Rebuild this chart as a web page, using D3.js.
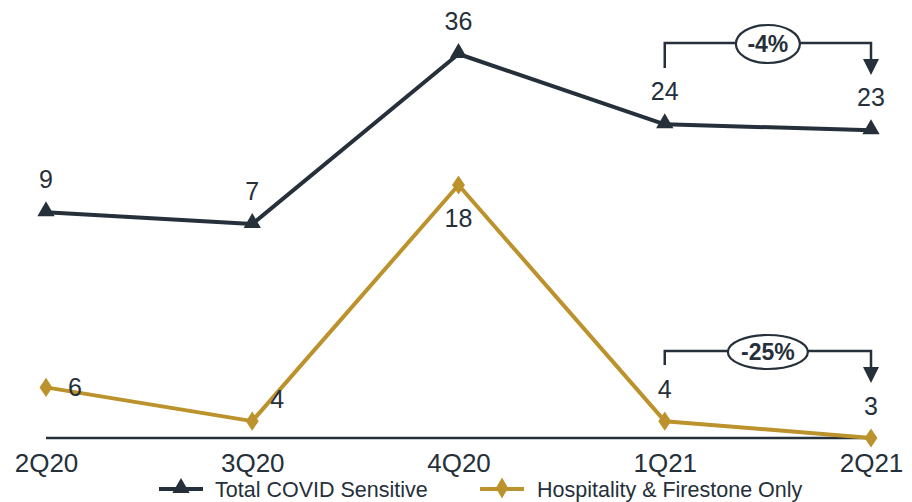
<!DOCTYPE html>
<html>
<head>
<meta charset="utf-8">
<script src="https://cdn.jsdelivr.net/npm/d3@7"></script>
<style>
  html, body { margin: 0; padding: 0; background: #ffffff; }
  svg { display: block; }
  text { font-family: "Liberation Sans", Arial, sans-serif; }
</style>
</head>
<body>
<svg id="chart" width="912" height="502"></svg>
<script>
const categories = ["2Q20", "3Q20", "4Q20", "1Q21", "2Q21"];
const totalCovid = [9, 7, 36, 24, 23];
const hospitality = [6, 4, 18, 4, 3];
const seriesNames = ["Total COVID Sensitive", "Hospitality & Firestone Only"];
const changeLabels = ["-4%", "-25%"];

const DARK = "#25303a";
const GOLD = "#bb922b";

const svg = d3.select("#chart");

const x = d3.scalePoint().domain(categories).range([46, 871]);
const y1 = d3.scaleLinear().domain([7, 36]).range([224, 54]);
const y2 = d3.scaleLinear().domain([3, 18]).range([438, 185]);
const baseY = y2(3);

// x axis
const xAxis = d3.axisBottom(x).tickSize(0).tickPadding(0);
const gx = svg.append("g").attr("transform", `translate(0,${baseY})`).call(xAxis);
gx.select(".domain").remove();
gx.append("line").attr("x1", x(categories[0])).attr("x2", x(categories[4]))
  .attr("y1", 0).attr("y2", 0).attr("stroke", DARK).attr("stroke-width", 2.5);
gx.selectAll(".tick text")
  .attr("y", 34).attr("dy", 0)
  .style("font-size", "26px").style("fill", DARK)
  .style("font-family", "'Liberation Sans', Arial, sans-serif");

const tri = d3.symbol().type(d3.symbolTriangle).size(130);
const dia = d3.symbol().type(d3.symbolDiamond).size(130);

// Total line
const line1 = d3.line().x((d, i) => x(categories[i])).y(d => y1(d));
svg.append("path").datum(totalCovid).attr("d", line1)
  .attr("fill", "none").attr("stroke", DARK).attr("stroke-width", 4).attr("stroke-linejoin", "round");
svg.selectAll(".m1").data(totalCovid).join("path")
  .attr("d", tri).attr("fill", DARK)
  .attr("transform", (d, i) => `translate(${x(categories[i])},${y1(d) - 1})`);
svg.selectAll(".l1").data(totalCovid).join("text")
  .attr("x", (d, i) => x(categories[i]))
  .attr("y", d => y1(d) - 24)
  .attr("text-anchor", "middle").style("font-size", "25px").style("fill", DARK)
  .text(d => d);

// Hospitality line
const line2 = d3.line().x((d, i) => x(categories[i])).y(d => y2(d));
svg.append("path").datum(hospitality).attr("d", line2)
  .attr("fill", "none").attr("stroke", GOLD).attr("stroke-width", 4).attr("stroke-linejoin", "round");
svg.selectAll(".m2").data(hospitality).join("path")
  .attr("d", dia).attr("fill", GOLD)
  .attr("transform", (d, i) => `translate(${x(categories[i])},${y2(d)}) scale(1.05,0.9)`);
const hOff = [[29, 9], [25, -13], [0, 42], [0, -23], [0, -23]];
svg.selectAll(".l2").data(hospitality).join("text")
  .attr("x", (d, i) => x(categories[i]) + hOff[i][0])
  .attr("y", (d, i) => y2(d) + hOff[i][1])
  .attr("text-anchor", "middle").style("font-size", "25px").style("fill", DARK)
  .text(d => d);

// change brackets
function bracket(topY, leftDrop, arrowTip, label, rx, ry) {
  const xl = x(categories[3]), xr = x(categories[4]);
  const g = svg.append("g");
  g.append("path")
    .attr("d", `M${xl},${topY + leftDrop} V${topY} H${xr} V${arrowTip - 15}`)
    .attr("fill", "none").attr("stroke", DARK).attr("stroke-width", 2.5);
  g.append("path")
    .attr("d", `M${xr - 8},${arrowTip - 16} L${xr + 8},${arrowTip - 16} L${xr},${arrowTip} Z`)
    .attr("fill", DARK);
  const cx = (xl + xr) / 2;
  g.append("ellipse").attr("cx", cx).attr("cy", topY + 1).attr("rx", rx).attr("ry", ry)
    .attr("fill", "#fff").attr("stroke", DARK).attr("stroke-width", 2.2);
  g.append("text").attr("x", cx).attr("y", topY + 9)
    .attr("text-anchor", "middle").style("font-size", "23px").style("font-weight", "bold")
    .style("fill", DARK).text(label);
}
bracket(43, 25, 75, changeLabels[0], 32, 19);
bracket(351, 14, 383, changeLabels[1], 40, 17);

// legend
const legend = [
  { name: seriesNames[0], color: DARK, sym: tri, x0: 159, tx: 215 },
  { name: seriesNames[1], color: GOLD, sym: dia, x0: 480, tx: 537 }
];
const ly = 489;
legend.forEach(l => {
  svg.append("line").attr("x1", l.x0).attr("x2", l.x0 + 44).attr("y1", ly).attr("y2", ly)
    .attr("stroke", l.color).attr("stroke-width", 4);
  svg.append("path").attr("d", l.sym).attr("fill", l.color)
    .attr("transform", `translate(${l.x0 + 22},${ly - 1})`);
  svg.append("text").attr("x", l.tx).attr("y", ly + 8)
    .style("font-size", "21.5px").style("fill", DARK).text(l.name);
});
</script>
</body>
</html>
